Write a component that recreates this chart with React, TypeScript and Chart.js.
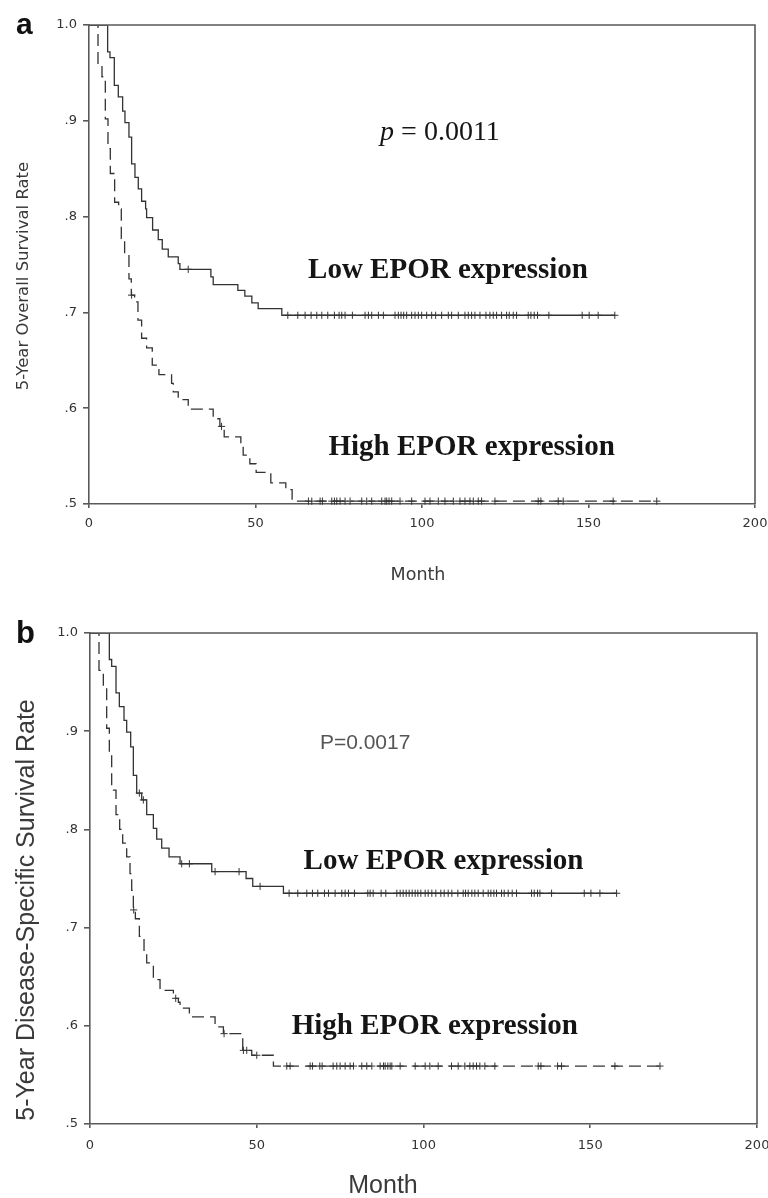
import React, { useEffect, useRef } from 'react';
import { Chart, registerables } from 'chart.js';

Chart.register(...registerables);

// ---------------- Data: panel a (overall survival) ----------------
const aLowTimes = [5.6, 6.3, 7.6, 8.8, 10.1, 10.8, 12.0, 12.8, 13.8, 14.8, 15.8, 17.0, 17.3, 19.1, 20.8, 22.0, 23.8, 26.8, 27.3, 36.6, 37.3, 44.7, 46.8, 48.9, 50.8, 57.9];
const aLowSurv = [0.972, 0.966, 0.937, 0.925, 0.910, 0.898, 0.883, 0.855, 0.841, 0.829, 0.816, 0.808, 0.799, 0.786, 0.776, 0.766, 0.758, 0.751, 0.745, 0.737, 0.729, 0.723, 0.717, 0.710, 0.704, 0.697];
const aLowCensor = [29.8, 59.7, 62.7, 64.9, 66.7, 68.4, 69.9, 71.7, 73.7, 75.1, 75.9, 76.9, 79.1, 82.9, 83.9, 84.9, 86.9, 88.4, 91.9, 92.9, 93.7, 94.5, 95.4, 96.9, 97.9, 98.9, 99.9, 101.4, 102.9, 104.1, 105.9, 107.9, 108.9, 110.9, 112.9, 113.9, 114.9, 115.9, 117.4, 119.2, 120.4, 121.4, 122.4, 123.9, 125.4, 126.2, 127.4, 128.4, 131.9, 132.7, 133.7, 134.7, 138.1, 148.1, 150.2, 152.9, 157.9];

const aHighTimes = [2.7, 3.9, 4.9, 5.7, 6.4, 7.7, 8.9, 9.7, 10.7, 12.0, 12.7, 13.7, 14.7, 15.8, 17.3, 19.0, 21.0, 24.8, 25.3, 26.8, 29.8, 37.3, 39.3, 40.6, 45.6, 46.3, 48.3, 50.2, 54.6, 59.1, 61.0];
const aHighSurv = [0.958, 0.946, 0.902, 0.871, 0.845, 0.815, 0.808, 0.777, 0.760, 0.735, 0.718, 0.711, 0.692, 0.673, 0.663, 0.645, 0.635, 0.626, 0.617, 0.609, 0.599, 0.589, 0.581, 0.570, 0.561, 0.551, 0.542, 0.533, 0.522, 0.515, 0.503];
const aHighCensor = [12.8, 39.8, 65.9, 66.9, 69.4, 70.1, 72.9, 73.7, 74.4, 75.4, 76.9, 78.4, 81.9, 83.4, 84.9, 87.9, 88.9, 89.4, 90.1, 90.9, 93.4, 96.9, 100.9, 102.4, 104.9, 106.9, 109.4, 111.4, 112.9, 114.4, 115.4, 116.9, 117.9, 121.9, 134.9, 135.7, 140.9, 142.4, 157.4, 170.5];

// ---------------- Data: panel b (disease-specific survival) ----------------
const bLowTimes = [5.8, 6.5, 7.8, 8.8, 10.2, 11.0, 12.2, 13.0, 14.0, 15.5, 17.0, 19.0, 20.0, 21.5, 23.7, 27.0, 36.5, 46.8, 48.8, 58.0];
const bLowSurv = [0.973, 0.966, 0.939, 0.925, 0.911, 0.899, 0.884, 0.855, 0.837, 0.830, 0.815, 0.801, 0.790, 0.781, 0.772, 0.765, 0.757, 0.750, 0.742, 0.735];
const bLowCensor = [14.8, 16.0, 27.5, 29.8, 37.5, 44.7, 51.0, 59.7, 62.3, 65.0, 66.7, 68.3, 70.3, 71.5, 73.5, 75.5, 76.5, 77.5, 79.3, 83.3, 84.0, 84.9, 87.3, 88.7, 92.0, 93.0, 93.9, 94.8, 95.7, 96.6, 97.5, 98.3, 99.2, 100.5, 101.4, 102.5, 103.7, 105.2, 106.2, 107.4, 108.5, 110.3, 111.9, 112.6, 113.4, 114.5, 115.4, 116.4, 117.9, 119.4, 120.2, 121.1, 121.9, 123.4, 124.2, 125.4, 126.6, 127.9, 132.4, 133.2, 134.2, 134.9, 138.4, 148.2, 150.2, 152.9, 157.9];

const bHighTimes = [2.7, 4.0, 5.0, 5.8, 6.5, 7.8, 8.9, 9.8, 11.0, 12.0, 12.5, 13.0, 13.6, 14.8, 16.2, 17.0, 19.0, 21.0, 25.0, 26.5, 27.0, 29.8, 37.5, 40.0, 45.8, 48.5, 55.0];
const bHighSurv = [0.962, 0.945, 0.903, 0.878, 0.840, 0.815, 0.800, 0.786, 0.772, 0.755, 0.738, 0.718, 0.709, 0.691, 0.674, 0.664, 0.647, 0.636, 0.628, 0.624, 0.618, 0.609, 0.599, 0.592, 0.575, 0.570, 0.559];
const bHighCensor = [13.1, 25.7, 40.2, 46.0, 47.0, 50.0, 59.0, 60.0, 66.0, 66.7, 68.9, 69.6, 72.9, 74.0, 75.0, 76.5, 78.0, 79.0, 81.5, 83.0, 84.5, 87.0, 88.0, 88.5, 89.3, 90.0, 90.5, 93.0, 97.5, 100.5, 101.9, 104.4, 108.4, 110.4, 112.4, 113.9, 114.9, 115.9, 116.9, 118.4, 121.4, 134.4, 135.2, 140.2, 141.4, 157.4, 170.9];

// ---------------- Axis ticks ----------------
const xTickValues = [0, 50, 100, 150, 200];
const yTickValues = [0.5, 0.6, 0.7, 0.8, 0.9, 1.0];
const yTickLabels = ['.5', '.6', '.7', '.8', '.9', '1.0'];

// ---------------- Styling ----------------
const LINE_COLOR = '#333333';
const AXIS_COLOR = '#5a5a5a';
const AXIS_WIDTH = 1.6;
const FONT_VERDANA = '"DejaVu Sans", Verdana, sans-serif';
const FONT_ARIAL = '"Liberation Sans", Arial, sans-serif';
const FONT_SERIF = '"Liberation Serif", "Times New Roman", serif';

function stepPoints(times: number[], surv: number[], end: number) {
  const pts = [{ x: 0, y: 1 }];
  times.forEach((t, i) => pts.push({ x: t, y: surv[i] }));
  pts.push({ x: end, y: surv[surv.length - 1] });
  return pts;
}

function survAt(times: number[], surv: number[], t: number) {
  let v = 1;
  for (let i = 0; i < times.length; i++) if (times[i] <= t) v = surv[i];
  return v;
}

function censorPoints(times: number[], surv: number[], cens: number[]) {
  return cens.map((c) => ({ x: c, y: survAt(times, surv, c) }));
}

const overlayPlugin = {
  id: 'overlay',
  afterDraw(chart: any, _args: any, opts: any) {
    const { ctx, chartArea, scales } = chart;
    ctx.save();
    // top and right frame
    ctx.strokeStyle = AXIS_COLOR;
    ctx.lineWidth = AXIS_WIDTH;
    ctx.beginPath();
    ctx.moveTo(chartArea.left, chartArea.top);
    ctx.lineTo(chartArea.right, chartArea.top);
    ctx.lineTo(chartArea.right, chartArea.bottom);
    ctx.stroke();

    // panel letter
    ctx.fillStyle = '#111';
    ctx.font = opts.letterFont;
    ctx.textAlign = 'left';
    ctx.textBaseline = 'alphabetic';
    ctx.fillText(opts.letter, opts.letterX, opts.letterY);

    // axis titles
    ctx.fillStyle = '#3a3a3a';
    ctx.textAlign = 'center';
    ctx.textBaseline = 'middle';
    ctx.font = opts.xTitleFont;
    ctx.fillText(opts.xTitle, opts.xTitleX, opts.xTitleY);
    ctx.save();
    ctx.translate(opts.yTitleX, opts.yTitleY);
    ctx.rotate(-Math.PI / 2);
    ctx.font = opts.yTitleFont;
    ctx.fillText(opts.yTitle, 0, 0);
    ctx.restore();

    // annotations placed in data coordinates
    for (const a of opts.labels) {
      const px = scales.x.getPixelForValue(a.x);
      const py = scales.y.getPixelForValue(a.y);
      let total = 0;
      for (const p of a.parts) {
        ctx.font = p.font;
        total += ctx.measureText(p.text).width;
      }
      let cx = px - total / 2;
      ctx.textAlign = 'left';
      ctx.textBaseline = a.baseline;
      ctx.fillStyle = a.color;
      for (const p of a.parts) {
        ctx.font = p.font;
        ctx.fillText(p.text, cx, py);
        cx += ctx.measureText(p.text).width;
      }
    }
    ctx.restore();
  },
};

function makeConfig(spec: any) {
  const lowEnd = Math.max(...spec.lowCensor);
  const highEnd = Math.max(...spec.highCensor);
  return {
    type: 'scatter',
    data: {
      datasets: [
        {
          type: 'line',
          data: stepPoints(spec.lowTimes, spec.lowSurv, lowEnd),
          stepped: true,
          borderColor: LINE_COLOR,
          borderWidth: 1.3,
          pointRadius: 0,
          fill: false,
        },
        {
          type: 'line',
          data: stepPoints(spec.highTimes, spec.highSurv, highEnd),
          stepped: true,
          borderColor: LINE_COLOR,
          borderWidth: 1.3,
          borderDash: [12, 6],
          pointRadius: 0,
          fill: false,
        },
        {
          type: 'scatter',
          data: censorPoints(spec.lowTimes, spec.lowSurv, spec.lowCensor),
          pointStyle: 'cross',
          pointRadius: 3.6,
          borderColor: LINE_COLOR,
          borderWidth: 1,
          showLine: false,
          clip: false,
        },
        {
          type: 'scatter',
          data: censorPoints(spec.highTimes, spec.highSurv, spec.highCensor),
          pointStyle: 'cross',
          pointRadius: 3.6,
          borderColor: LINE_COLOR,
          borderWidth: 1,
          showLine: false,
          clip: false,
        },
      ],
    },
    options: {
      responsive: false,
      animation: false,
      events: [],
      layout: {
        padding: {
          left: 0,
          top: spec.top,
          right: spec.width - spec.right,
          bottom: spec.height - spec.bottom - 40,
        },
      },
      plugins: {
        legend: { display: false },
        tooltip: { enabled: false },
        overlay: spec.overlay,
      },
      scales: {
        x: {
          type: 'linear',
          min: 0,
          max: 200,
          afterBuildTicks: (s: any) => {
            s.ticks = xTickValues.map((v) => ({ value: v }));
          },
          afterFit: (s: any) => {
            s.height = 40;
            s.paddingLeft = 0;
            s.paddingRight = 0;
          },
          grid: {
            display: true,
            drawOnChartArea: false,
            drawTicks: true,
            tickLength: 4,
            color: AXIS_COLOR,
            lineWidth: AXIS_WIDTH,
          },
          border: { display: true, color: AXIS_COLOR, width: AXIS_WIDTH },
          ticks: {
            autoSkip: false,
            maxRotation: 0,
            padding: spec.xTickPad,
            color: '#333',
            font: { family: FONT_VERDANA, size: 13 },
            callback: (v: any) => String(v),
          },
        },
        y: {
          type: 'linear',
          min: 0.5,
          max: 1.0,
          afterBuildTicks: (s: any) => {
            s.ticks = yTickValues.map((v) => ({ value: v }));
          },
          afterFit: (s: any) => {
            s.width = spec.left;
            s.paddingTop = 0;
            s.paddingBottom = 0;
          },
          grid: {
            display: true,
            drawOnChartArea: false,
            drawTicks: true,
            tickLength: 6,
            color: AXIS_COLOR,
            lineWidth: AXIS_WIDTH,
          },
          border: { display: true, color: AXIS_COLOR, width: AXIS_WIDTH },
          ticks: {
            padding: 6,
            color: '#333',
            font: { family: FONT_VERDANA, size: 13 },
            callback: (_v: any, i: number) => yTickLabels[i],
          },
        },
      },
    },
    plugins: [overlayPlugin],
  };
}

const boldLabel = (text: string, x: number, y: number) => ({
  x,
  y,
  baseline: 'alphabetic',
  color: '#151515',
  parts: [{ text, font: `bold 29px ${FONT_SERIF}` }],
});

const panelA = {
  width: 768,
  height: 600,
  left: 89,
  right: 755,
  top: 25,
  bottom: 504,
  xTickPad: 8,
  lowTimes: aLowTimes,
  lowSurv: aLowSurv,
  lowCensor: aLowCensor,
  highTimes: aHighTimes,
  highSurv: aHighSurv,
  highCensor: aHighCensor,
  overlay: {
    letter: 'a',
    letterFont: `bold 30px ${FONT_ARIAL}`,
    letterX: 16,
    letterY: 34,
    xTitle: 'Month',
    xTitleFont: `17.5px ${FONT_VERDANA}`,
    xTitleX: 418,
    xTitleY: 575,
    yTitle: '5-Year Overall Survival Rate',
    yTitleFont: `16.5px ${FONT_VERDANA}`,
    yTitleX: 24,
    yTitleY: 276,
    labels: [
      {
        x: 105.4,
        y: 0.888,
        baseline: 'middle',
        color: '#151515',
        parts: [
          { text: 'p', font: `italic 28px ${FONT_SERIF}` },
          { text: ' = 0.0011', font: `28px ${FONT_SERIF}` },
        ],
      },
      boldLabel('Low EPOR expression', 107.8, 0.736),
      boldLabel('High EPOR expression', 114.9, 0.551),
    ],
  },
};

const panelB = {
  width: 768,
  height: 598,
  left: 90,
  right: 757,
  top: 33,
  bottom: 524,
  xTickPad: 10,
  lowTimes: bLowTimes,
  lowSurv: bLowSurv,
  lowCensor: bLowCensor,
  highTimes: bHighTimes,
  highSurv: bHighSurv,
  highCensor: bHighCensor,
  overlay: {
    letter: 'b',
    letterFont: `bold 31px ${FONT_ARIAL}`,
    letterX: 16,
    letterY: 43,
    xTitle: 'Month',
    xTitleFont: `25px ${FONT_ARIAL}`,
    xTitleX: 383,
    xTitleY: 586,
    yTitle: '5-Year Disease-Specific Survival Rate',
    yTitleFont: `25px ${FONT_ARIAL}`,
    yTitleX: 27,
    yTitleY: 310,
    labels: [
      {
        x: 82.5,
        y: 0.888,
        baseline: 'middle',
        color: '#555',
        parts: [{ text: 'P=0.0017', font: `21px ${FONT_ARIAL}` }],
      },
      boldLabel('Low EPOR expression', 106.0, 0.76),
      boldLabel('High EPOR expression', 103.4, 0.592),
    ],
  },
};

function Panel({ spec, top }: { spec: any; top: number }) {
  const ref = useRef<HTMLCanvasElement | null>(null);
  useEffect(() => {
    if (!ref.current) return;
    const chart = new Chart(ref.current, makeConfig(spec) as any);
    return () => chart.destroy();
  }, [spec]);
  return (
    <canvas
      ref={ref}
      width={spec.width}
      height={spec.height}
      style={{ position: 'absolute', left: 0, top, width: spec.width, height: spec.height, display: 'block' }}
    />
  );
}

export default function App() {
  return (
    <div style={{ position: 'absolute', left: 0, top: 0, width: 768, height: 1198, background: '#fff', overflow: 'hidden' }}>
      <Panel spec={panelA} top={0} />
      <Panel spec={panelB} top={600} />
    </div>
  );
}
